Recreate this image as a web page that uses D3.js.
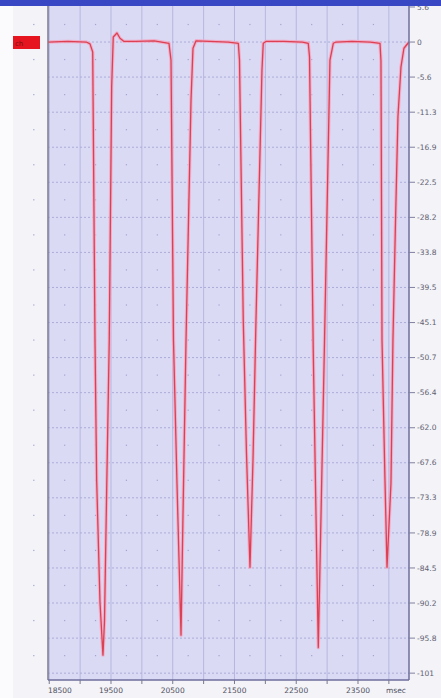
<!DOCTYPE html>
<meta charset="utf-8">
<style>
    body {
        margin: 0;
        background: #f3f3f8;
    }
    svg text {
        font-family: "DejaVu Sans", sans-serif;
    }
</style>
<body>
<div id="my_dataviz"></div>
<script src="https://d3js.org/d3.v7.min.js"></script>
<script>
  // trace, time in msec and amplitude
  var timeMs = [18480, 18800, 19100, 19160, 19204, 19241, 19268, 19322, 19370, 19395, 19430, 19472, 19511, 19537,
    19597, 19646, 19711, 19900, 20200, 20439, 20472, 20512, 20569, 20634, 20666, 20715, 20796, 20828, 20877,
    21100, 21400, 21562, 21581, 21642, 21694, 21751, 21800, 21848, 21945, 21966, 22010, 22300, 22600, 22695,
    22715, 22776, 22820, 22857, 22893, 22954, 23046, 23100, 23144, 23400, 23700, 23856, 23872, 23889, 23937,
    23970, 24034, 24066, 24107, 24147, 24196, 24244, 24309, 24326];
  var valueMv = [0, 0.1, 0, -0.3, -1.6, -47.9, -70.4, -90, -98.5, -93, -72, -47.9, -7.2, 0.8,
    1.45, 0.6, 0.1, 0.1, 0.2, -0.2, -2.9, -47.9, -71, -95.3, -76, -47.9, -9.3, -1.0, 0.2,
    0.1, 0, -0.2, -2.9, -44.7, -66, -84.4, -67, -44.7, -4.5, -0.2, 0.1, 0.1, 0, -0.2,
    -2.4, -50.0, -76, -97.3, -80, -50.0, -2.9, -0.2, 0, 0.1, 0, -0.2, -3, -47.9, -70.4,
    -84.4, -70.9, -47.9, -29, -12, -4.0, -1, -0.2, 0];

  var yTickValues = [5.63, 0, -5.63, -11.27, -16.9, -22.53, -28.17, -33.8, -39.43, -45.07, -50.7, -56.33,
    -61.97, -67.6, -73.23, -78.87, -84.5, -90.13, -95.77, -101.4];
  var yTickLabels = ["5.6", "0", "-5.6", "-11.3", "-16.9", "-22.5", "-28.2", "-33.8", "-39.5", "-45.1", "-50.7", "-56.4",
    "-62.0", "-67.6", "-73.3", "-78.9", "-84.5", "-90.2", "-95.8", "-101"];
  var xGridValues = [18500, 19000, 19500, 20000, 20500, 21000, 21500, 22000, 22500, 23000, 23500, 24000];
  var xLabelValues = [18500, 19500, 20500, 21500, 22500, 23500];
  var xUnit = "msec";

  var W = 441, H = 698;
  var margin = { top: 5, right: 32, bottom: 18, left: 48 },
    width = W - margin.left - margin.right,
    height = H - margin.top - margin.bottom;

  var svg = d3.select("#my_dataviz")
    .append("svg")
    .attr("width", W)
    .attr("height", H);

  // light strip at far left
  svg.append("rect").attr("x", 0).attr("y", 0).attr("width", 13).attr("height", H).attr("fill", "#fbfbfd");

  var x = d3.scaleLinear().domain([18480, 24326]).range([0, width]);
  var y = d3.scaleLinear().domain([-102.5, 5.95]).range([height, 0]);

  var g = svg.append("g")
    .attr("transform", "translate(" + margin.left + "," + margin.top + ")");

  g.append("rect")
    .attr("width", width)
    .attr("height", height)
    .attr("fill", "#dadaf5");

  // vertical grid
  g.selectAll(".vgrid")
    .data(xGridValues)
    .enter()
    .append("line")
    .attr("x1", function (d) { return x(d); })
    .attr("x2", function (d) { return x(d); })
    .attr("y1", 0)
    .attr("y2", height)
    .attr("stroke", "#b6b6e0")
    .attr("stroke-width", 1);

  // horizontal grid (dotted)
  g.selectAll(".hgrid")
    .data(yTickValues.slice(1))
    .enter()
    .append("line")
    .attr("x1", 0)
    .attr("x2", width)
    .attr("y1", function (d) { return y(d); })
    .attr("y2", function (d) { return y(d); })
    .attr("stroke", "#acacd8")
    .attr("stroke-dasharray", "2,2")
    .attr("stroke-width", 1);

  // little dots in the middle of every cell
  var dots = [];
  xGridValues.forEach(function (xv) {
    for (var i = 0; i < yTickValues.length - 1; i++) {
      dots.push([xv - 250, (yTickValues[i] + yTickValues[i + 1]) / 2]);
    }
  });
  g.selectAll(".dot")
    .data(dots)
    .enter()
    .append("rect")
    .attr("x", function (d) { return x(d[0]) - 0.6; })
    .attr("y", function (d) { return y(d[1]) - 0.6; })
    .attr("width", 1.2)
    .attr("height", 1.2)
    .attr("fill", "#a4a4cf");

  // trace
  var pts = timeMs.map(function (t, i) { return [t, valueMv[i]]; });
  var line = d3.line()
    .x(function (d) { return x(d[0]); })
    .y(function (d) { return y(d[1]); });

  g.append("path")
    .datum(pts)
    .attr("d", line)
    .attr("fill", "none")
    .attr("stroke", "#f2a8c4")
    .attr("stroke-width", 3.4)
    .attr("stroke-linejoin", "round")
    .attr("opacity", 0.85);

  g.append("path")
    .datum(pts)
    .attr("d", line)
    .attr("fill", "none")
    .attr("stroke", "#dc4052")
    .attr("stroke-width", 1.3)
    .attr("stroke-linejoin", "round");

  // frame
  g.append("line").attr("x1", 0).attr("x2", 0).attr("y1", 0).attr("y2", height)
    .attr("stroke", "#7a7a8c").attr("stroke-width", 1.5);
  g.append("line").attr("x1", width).attr("x2", width).attr("y1", 0).attr("y2", height)
    .attr("stroke", "#6e6e9e").attr("stroke-width", 1.5);
  g.append("line").attr("x1", 0).attr("x2", width).attr("y1", height).attr("y2", height)
    .attr("stroke", "#6e6e9e").attr("stroke-width", 1.5);

  // right axis
  var yAxis = g.append("g").attr("transform", "translate(" + width + ",0)");
  var yt = yAxis.selectAll(".yt")
    .data(yTickValues)
    .enter()
    .append("g")
    .attr("transform", function (d) { return "translate(0," + y(d) + ")"; });
  yt.append("line").attr("x1", 0).attr("x2", 6).attr("stroke", "#8080a0");
  yt.append("text")
    .attr("x", 8)
    .attr("dy", "0.35em")
    .attr("font-size", 7.5)
    .attr("fill", "#606070")
    .text(function (d, i) { return yTickLabels[i]; });

  // bottom axis
  var xAxis = g.append("g").attr("transform", "translate(0," + height + ")");
  xAxis.selectAll(".xt")
    .data(xGridValues)
    .enter()
    .append("line")
    .attr("x1", function (d) { return x(d); })
    .attr("x2", function (d) { return x(d); })
    .attr("y1", 0)
    .attr("y2", 4)
    .attr("stroke", "#7a7a90");
  xAxis.selectAll(".xl")
    .data(xLabelValues)
    .enter()
    .append("text")
    .attr("x", function (d, i) { return i == 0 ? 0 : x(d); })
    .attr("y", 13)
    .attr("text-anchor", function (d, i) { return i == 0 ? "start" : "middle"; })
    .attr("font-size", 7.5)
    .attr("fill", "#505060")
    .text(function (d) { return d; });
  xAxis.append("text")
    .attr("x", width - 13)
    .attr("y", 13)
    .attr("text-anchor", "middle")
    .attr("font-size", 7.5)
    .attr("fill", "#505060")
    .text(xUnit);

  // channel marker
  svg.append("rect")
    .attr("x", 13).attr("y", 36).attr("width", 27).attr("height", 13)
    .attr("fill", "#e5141f");
  svg.append("text")
    .attr("x", 15).attr("y", 45.5)
    .attr("font-size", 7)
    .attr("fill", "#7a1010")
    .text("ch");

  // top bar (covers part of the top label)
  svg.append("rect").attr("x", 0).attr("y", 0).attr("width", W).attr("height", 6).attr("fill", "#3848c4");
</script>
</body>
